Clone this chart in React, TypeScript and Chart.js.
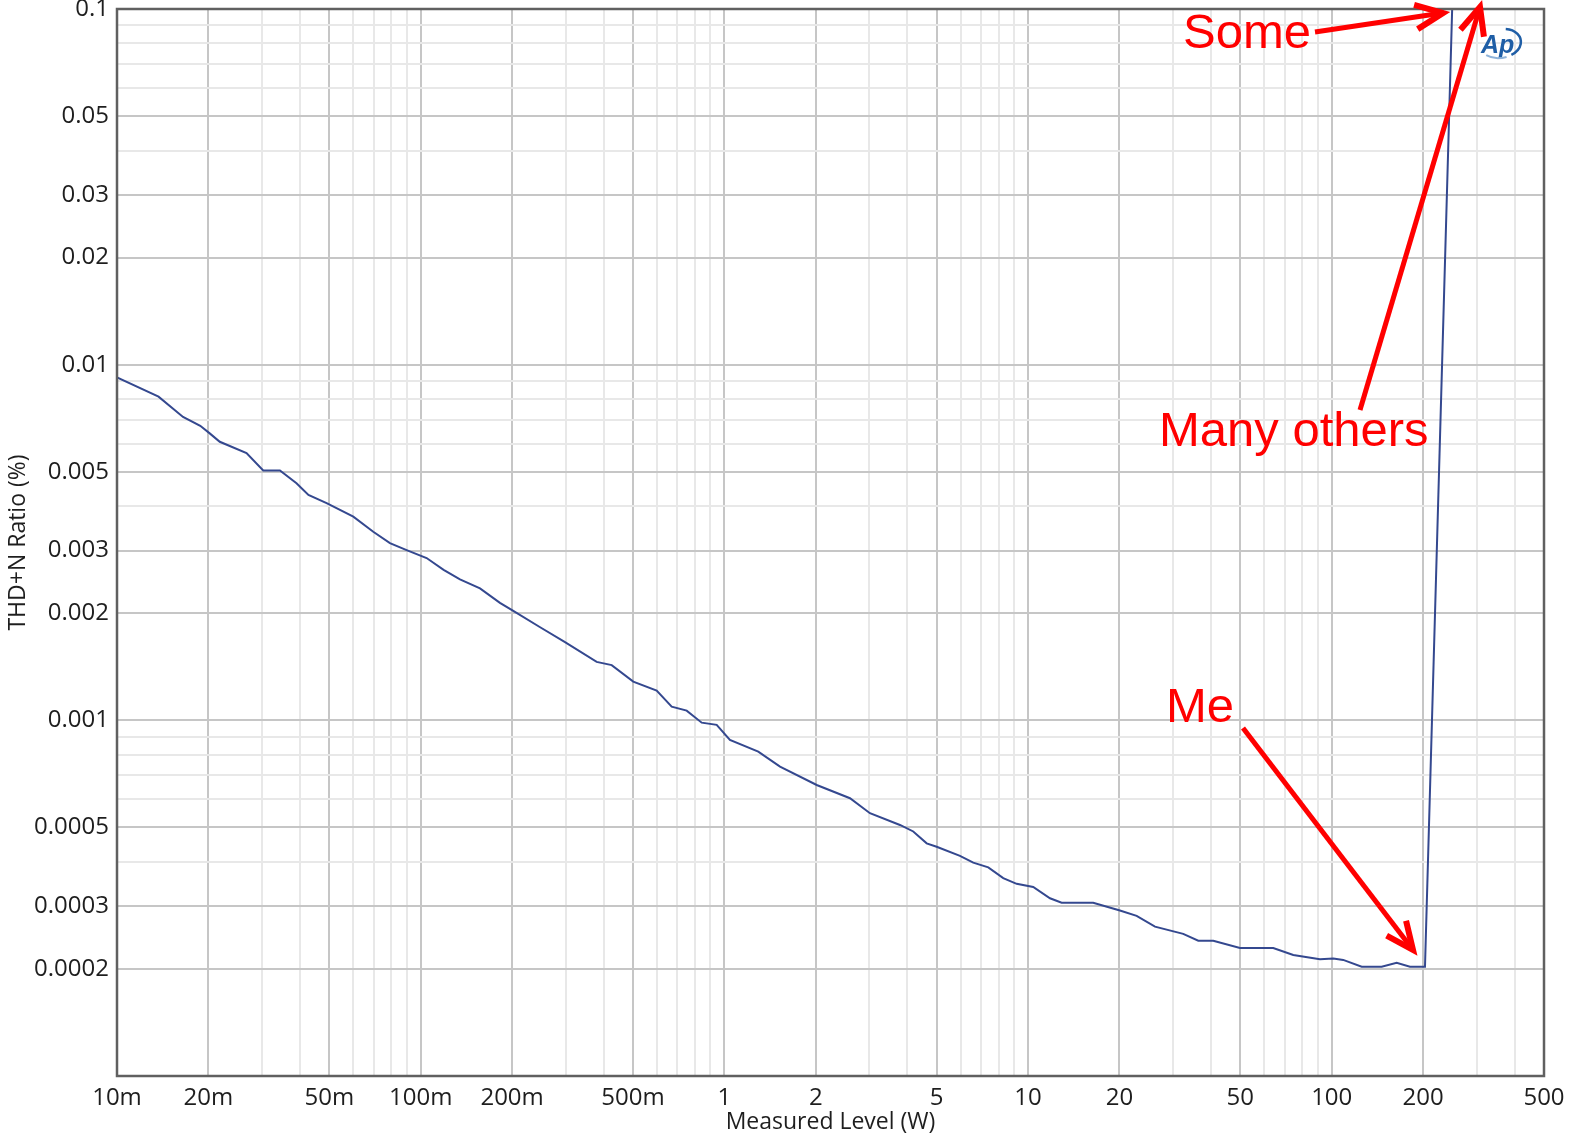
import React, { useEffect, useRef } from "react";
import { Chart, registerables } from "chart.js";

Chart.register(...registerables);

// ---- data ----
const levelW = [
  0.01, 0.0137, 0.0165, 0.0188, 0.0202, 0.0218, 0.0267, 0.0303, 0.0344, 0.039,
  0.0427, 0.049, 0.06, 0.0698, 0.0792, 0.0899, 0.1046, 0.119, 0.1347, 0.1568,
  0.1824, 0.2018, 0.2466, 0.2987, 0.3797, 0.4256, 0.5012, 0.5985, 0.6707, 0.7514,
  0.8421, 0.9434, 1.043, 1.293, 1.525, 2.014, 2.592, 3.016, 3.786, 4.188,
  4.636, 5.0, 5.968, 6.601, 7.396, 8.285, 9.173, 10.4, 11.81, 12.9,
  16.39, 20.07, 22.78, 26.18, 32.43, 36.35, 40.73, 49.87, 64.19, 74.7,
  91.45, 101.2, 109.1, 125.5, 146, 163.6, 181, 202.8, 250,
];
const thdnPct = [
  0.00921, 0.00813, 0.00713, 0.00673, 0.00641, 0.00607, 0.00564, 0.00504, 0.00504, 0.00464,
  0.0043, 0.00408, 0.00374, 0.00339, 0.00315, 0.00301, 0.00286, 0.00265, 0.00249, 0.00235,
  0.00214, 0.00203, 0.00183, 0.00166, 0.00146, 0.00143, 0.001285, 0.001212, 0.001093, 0.001065,
  0.000985, 0.000971, 0.000881, 0.000817, 0.000741, 0.000658, 0.000604, 0.000548, 0.000508, 0.000487,
  0.000451, 0.000441, 0.000416, 0.000398, 0.000386, 0.00036, 0.000347, 0.00034, 0.000316, 0.000307,
  0.000307, 0.000292, 0.000282, 0.000263, 0.000251, 0.00024, 0.00024, 0.000229, 0.000229, 0.000219,
  0.000213, 0.000214, 0.000212, 0.000203, 0.000203, 0.000208, 0.000203, 0.000203, 0.11,
];

const xMajorTicks = [0.01, 0.02, 0.05, 0.1, 0.2, 0.5, 1, 2, 5, 10, 20, 50, 100, 200, 500];
const xMajorLabels = ["10m", "20m", "50m", "100m", "200m", "500m", "1", "2", "5", "10", "20", "50", "100", "200", "500"];
const yMajorTicks = [0.1, 0.05, 0.03, 0.02, 0.01, 0.005, 0.003, 0.002, 0.001, 0.0005, 0.0003, 0.0002];
const yMajorLabels = ["0.1", "0.05", "0.03", "0.02", "0.01", "0.005", "0.003", "0.002", "0.001", "0.0005", "0.0003", "0.0002"];
const xDecades = [0.01, 0.1, 1, 10, 100];
const yDecades = [0.0001, 0.001, 0.01];
const mantissas = [1, 2, 3, 4, 5, 6, 7, 8, 9];
const xMajorMantissas = [1, 2, 5];
const yMajorMantissas = [1, 2, 3, 5];

const X_MIN = 0.01;
const X_MAX = 500;
const Y_MIN = 0.0001;
const Y_MAX = 0.1;

const xTitle = "Measured Level (W)";
const yTitle = "THD+N Ratio (%)";

// ---- layout / style ----
const W = 1582;
const H = 1134;
const TOP_SHIFT = 30; // canvas is shifted up so the top label is cut like in the reference
const BOTTOM_EXTRA = 2;
const CANVAS_H = H + TOP_SHIFT + BOTTOM_EXTRA;

const FONT_FAMILY = '"Open Sans", "Noto Sans", sans-serif';
const TEXT_COLOR = "#1e1e1e";
const MAJOR_GRID = "#c6c6c6";
const MINOR_GRID = "#e8e8e8";
const FRAME = "#606060";
const LINE_COLOR = "#34488f";
const RED = "#ff0000";

// annotation overlay (page pixel coordinates)
const notes = [
  { text: "Some", x: 1183, y: 48 },
  { text: "Many others", x: 1159, y: 446 },
  { text: "Me", x: 1166, y: 722 },
];
const arrows = [
  { x1: 1315, y1: 32, x2: 1443, y2: 13 },
  { x1: 1360, y1: 410, x2: 1480, y2: 7 },
  { x1: 1243, y1: 728, x2: 1413, y2: 950 },
];

const gridValues = (decades: number[], max: number) => {
  const out: number[] = [];
  decades.forEach((d) => mantissas.forEach((m) => {
    const v = m * d;
    if (v <= max * (1 + 1e-9)) out.push(v);
  }));
  if (!out.some((v) => Math.abs(v / max - 1) < 1e-9)) out.push(max);
  return out;
};

const mantissaOf = (v: number) => {
  const e = Math.floor(Math.log10(v) + 1e-9);
  return Math.round(v / Math.pow(10, e));
};

const labelFor = (v: number, ticks: number[], labels: string[]) => {
  const i = ticks.findIndex((t) => Math.abs(v / t - 1) < 1e-6);
  return i >= 0 ? labels[i] : "";
};

function drawArrow(ctx: CanvasRenderingContext2D, x1: number, y1: number, x2: number, y2: number) {
  const ang = Math.atan2(y2 - y1, x2 - x1);
  ctx.save();
  ctx.strokeStyle = RED;
  ctx.fillStyle = RED;
  ctx.lineWidth = 5;
  ctx.lineCap = "butt";
  ctx.beginPath();
  ctx.moveTo(x1, y1);
  ctx.lineTo(x2 - Math.cos(ang) * 4, y2 - Math.sin(ang) * 4);
  ctx.stroke();
  const len = 30;
  const spread = 0.42;
  ctx.lineWidth = 6;
  ctx.lineJoin = "miter";
  ctx.beginPath();
  ctx.moveTo(x2 - Math.cos(ang - spread) * len, y2 - Math.sin(ang - spread) * len);
  ctx.lineTo(x2, y2);
  ctx.lineTo(x2 - Math.cos(ang + spread) * len, y2 - Math.sin(ang + spread) * len);
  ctx.stroke();
  ctx.restore();
}

const overlayPlugin = {
  id: "overlay",
  afterDraw(chart: any) {
    const ctx: CanvasRenderingContext2D = chart.ctx;
    const { left, right, top, bottom } = chart.chartArea;
    // frame
    ctx.save();
    ctx.strokeStyle = FRAME;
    ctx.lineWidth = 2.5;
    ctx.strokeRect(left, top, right - left, bottom - top);
    ctx.restore();

    // AP logo
    ctx.save();
    ctx.translate(0, TOP_SHIFT);
    ctx.fillStyle = "#1f5ea6";
    ctx.font = 'italic bold 25px "Liberation Sans", sans-serif';
    ctx.textBaseline = "alphabetic";
    ctx.fillText("Ap", 1481, 53);
    ctx.strokeStyle = "#1f5ea6";
    ctx.lineWidth = 2.5;
    ctx.beginPath();
    ctx.ellipse(1503, 43, 18, 14, -0.15, -1.3, 1.2);
    ctx.stroke();
    ctx.strokeStyle = "#8fb3d9";
    ctx.lineWidth = 2;
    ctx.beginPath();
    ctx.ellipse(1500, 45, 20, 13, -0.1, 1.3, 2.4);
    ctx.stroke();

    // red notes
    ctx.fillStyle = RED;
    ctx.font = '49px "Liberation Sans", Arial, sans-serif';
    notes.forEach((n) => ctx.fillText(n.text, n.x, n.y));
    arrows.forEach((a) => drawArrow(ctx, a.x1, a.y1, a.x2, a.y2));
    ctx.restore();
  },
};

export default function App() {
  const ref = useRef<HTMLCanvasElement | null>(null);

  useEffect(() => {
    if (!ref.current) return;
    const xGrid = gridValues(xDecades, X_MAX);
    const yGrid = gridValues(yDecades, Y_MAX);
    const tickFont = { family: FONT_FAMILY, size: 24 };
    const titleFont = { family: FONT_FAMILY, size: 23 };

    const chart = new Chart(ref.current, {
      type: "line",
      data: {
        datasets: [
          {
            data: levelW.map((x, i) => ({ x, y: thdnPct[i] })),
            borderColor: LINE_COLOR,
            borderWidth: 2,
            pointRadius: 0,
            tension: 0,
            fill: false,
          },
        ],
      },
      options: {
        animation: false,
        responsive: false,
        devicePixelRatio: 1,
        layout: { padding: { left: 0, right: 38, top: 39, bottom: 0 } },
        plugins: { legend: { display: false }, tooltip: { enabled: false } },
        scales: {
          x: {
            type: "logarithmic",
            min: X_MIN,
            max: X_MAX,
            afterBuildTicks: (s: any) => {
              s.ticks = xGrid.map((v) => ({ value: v }));
            },
            afterFit: (s: any) => {
              s.height = 58 + BOTTOM_EXTRA;
            },
            ticks: {
              autoSkip: false,
              maxRotation: 0,
              minRotation: 0,
              padding: 8,
              font: tickFont,
              color: TEXT_COLOR,
              callback: (v: any) => labelFor(Number(v), xMajorTicks, xMajorLabels),
            },
            grid: {
              drawTicks: false,
              lineWidth: 2,
              color: (c: any) =>
                c.tick && xMajorMantissas.includes(mantissaOf(c.tick.value)) ? MAJOR_GRID : MINOR_GRID,
            },
            border: { display: false },
            title: {
              display: true,
              text: xTitle,
              font: titleFont,
              color: TEXT_COLOR,
              padding: { top: 0, bottom: 0 },
            },
          },
          y: {
            type: "logarithmic",
            min: Y_MIN,
            max: Y_MAX,
            afterBuildTicks: (s: any) => {
              s.ticks = yGrid.map((v) => ({ value: v }));
            },
            afterFit: (s: any) => {
              s.width = 117;
            },
            ticks: {
              autoSkip: false,
              padding: 8,
              font: tickFont,
              color: TEXT_COLOR,
              callback: (v: any) => labelFor(Number(v), yMajorTicks, yMajorLabels),
            },
            grid: {
              drawTicks: false,
              lineWidth: 2,
              color: (c: any) =>
                c.tick && yMajorMantissas.includes(mantissaOf(c.tick.value)) ? MAJOR_GRID : MINOR_GRID,
            },
            border: { display: false },
            title: {
              display: true,
              text: yTitle,
              font: titleFont,
              color: TEXT_COLOR,
              padding: { top: 5, bottom: 4 },
            },
          },
        },
      } as any,
      plugins: [overlayPlugin],
    });
    return () => chart.destroy();
  }, []);

  return (
    <div style={{ position: "fixed", left: 0, top: -TOP_SHIFT, width: W, height: CANVAS_H, background: "#fff" }}>
      <canvas ref={ref} width={W} height={CANVAS_H} style={{ width: W, height: CANVAS_H, display: "block" }} />
    </div>
  );
}
